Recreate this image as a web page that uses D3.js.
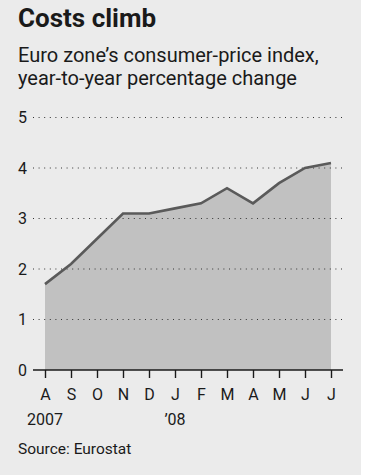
<!DOCTYPE html>
<html>
<head>
<meta charset="utf-8">
<script src="https://cdn.jsdelivr.net/npm/d3@7/dist/d3.min.js"></script>
<style>
  html, body { margin: 0; padding: 0; background: #ffffff; }
  svg { display: block; }
  text { font-family: Roboto, "Noto Sans", sans-serif; fill: #1a1a1a; }
</style>
</head>
<body>
<svg id="chart" width="374" height="475"></svg>
<script>
// Euro-zone CPI, year-on-year % change, Aug 2007 – Jul 2008
const months = ["A", "S", "O", "N", "D", "J", "F", "M", "A", "M", "J", "J"];
const cpi = [1.7, 2.1, 2.6, 3.1, 3.1, 3.2, 3.3, 3.6, 3.3, 3.7, 4.0, 4.1];
const yearLabels = [{ index: 0, text: "2007" }, { index: 5, text: "\u201908" }];
const yTicks = [0, 1, 2, 3, 4, 5];

const title = "Costs climb";
const subtitle = ["Euro zone\u2019s consumer-price index,", "year-to-year percentage change"];
const source = "Source: Eurostat";

const svg = d3.select("#chart");

// panel background
svg.append("rect")
  .attr("x", 0).attr("y", 0)
  .attr("width", 361).attr("height", 475)
  .attr("fill", "#ebebeb");

// headings
svg.append("text")
  .attr("x", 18).attr("y", 27)
  .attr("font-size", 26).attr("font-weight", 700)
  .attr("fill", "#111")
  .text(title);

svg.selectAll("text.sub")
  .data(subtitle)
  .join("text")
  .attr("class", "sub")
  .attr("x", 18)
  .attr("y", (d, i) => 62 + i * 23)
  .attr("font-size", 20)
  .text(d => d);

// scales
const x = d3.scalePoint()
  .domain(d3.range(months.length))
  .range([45, 331]);

const y = d3.scaleLinear()
  .domain([0, 5])
  .range([370, 117.5]);

const gridLeft = 33, gridRight = 343;

// filled area under the series
const area = d3.area()
  .x((d, i) => x(i))
  .y0(y(0))
  .y1(d => y(d));

svg.append("path")
  .datum(cpi)
  .attr("d", area)
  .attr("fill", "#c1c1c1");

// dotted gridlines
svg.selectAll("line.grid")
  .data(yTicks.filter(v => v > 0))
  .join("line")
  .attr("class", "grid")
  .attr("x1", gridLeft).attr("x2", gridRight)
  .attr("y1", d => y(d)).attr("y2", d => y(d))
  .attr("stroke", "#333")
  .attr("stroke-width", 1)
  .attr("stroke-dasharray", "1,4.6");

// series line
const line = d3.line()
  .x((d, i) => x(i))
  .y(d => y(d));

svg.append("path")
  .datum(cpi)
  .attr("d", line)
  .attr("fill", "none")
  .attr("stroke", "#5a5a5a")
  .attr("stroke-width", 2.6)
  .attr("stroke-linejoin", "miter");

// y-axis labels
svg.selectAll("text.ylab")
  .data(yTicks)
  .join("text")
  .attr("class", "ylab")
  .attr("x", 27)
  .attr("y", d => y(d))
  .attr("dy", "0.36em")
  .attr("text-anchor", "end")
  .attr("font-size", 16)
  .text(d => d);

// x axis: baseline with tick marks
const xAxis = d3.axisBottom(x)
  .tickSize(8)
  .tickSizeOuter(0)
  .tickFormat(i => months[i]);

const gx = svg.append("g")
  .attr("transform", `translate(0,${y(0)})`)
  .call(xAxis);

gx.select(".domain").remove();
gx.insert("line", ":first-child")
  .attr("x1", gridLeft).attr("x2", gridRight)
  .attr("y1", 0).attr("y2", 0)
  .attr("stroke", "#1a1a1a")
  .attr("stroke-width", 1.6);

gx.selectAll(".tick line")
  .attr("stroke", "#1a1a1a")
  .attr("stroke-width", 1.4);

gx.selectAll(".tick text")
  .attr("y", 30)
  .attr("dy", 0)
  .attr("font-size", 16)
  .attr("font-family", "Roboto, 'Noto Sans', sans-serif")
  .attr("fill", "#1a1a1a");

// year markers under the month labels
svg.selectAll("text.year")
  .data(yearLabels)
  .join("text")
  .attr("class", "year")
  .attr("x", d => x(d.index))
  .attr("y", 425)
  .attr("text-anchor", "middle")
  .attr("font-size", 16)
  .text(d => d.text);

// source note
svg.append("text")
  .attr("x", 18).attr("y", 454)
  .attr("font-size", 15.5)
  .text(source);
</script>
</body>
</html>
